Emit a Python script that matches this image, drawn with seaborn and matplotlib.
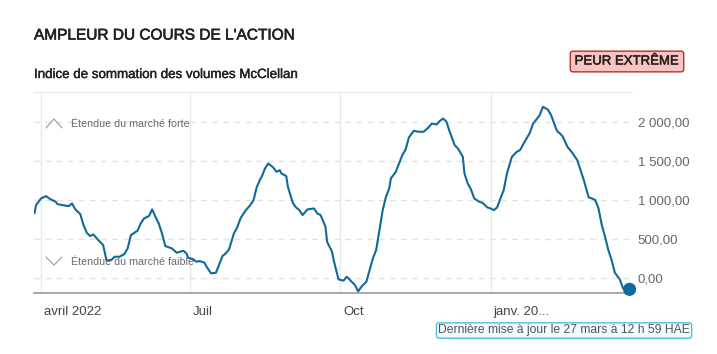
import pandas as pd
import numpy as np
import matplotlib
matplotlib.use("Agg")
import matplotlib.pyplot as plt
import matplotlib.transforms as mtransforms
import matplotlib.patheffects as pe
from matplotlib.ticker import FuncFormatter
import seaborn as sns

# Indice de sommation des volumes McClellan
dates = [
    "2022-03-28", "2022-03-29", "2022-04-01", "2022-04-04", "2022-04-07", "2022-04-10",
    "2022-04-11", "2022-04-14", "2022-04-18", "2022-04-20", "2022-04-22", "2022-04-25",
    "2022-04-27", "2022-04-29", "2022-05-01", "2022-05-03", "2022-05-06", "2022-05-09",
    "2022-05-11", "2022-05-14", "2022-05-16", "2022-05-19", "2022-05-22", "2022-05-24",
    "2022-05-26", "2022-05-30", "2022-06-01", "2022-06-03", "2022-06-06", "2022-06-08",
    "2022-06-10", "2022-06-12", "2022-06-14", "2022-06-16", "2022-06-20", "2022-06-23",
    "2022-06-25", "2022-06-27", "2022-06-29", "2022-06-30", "2022-07-03", "2022-07-05",
    "2022-07-07", "2022-07-10", "2022-07-11", "2022-07-14", "2022-07-17", "2022-07-21",
    "2022-07-23", "2022-07-25", "2022-07-28", "2022-07-30", "2022-08-01", "2022-08-04",
    "2022-08-07", "2022-08-09", "2022-08-11", "2022-08-12", "2022-08-13", "2022-08-14",
    "2022-08-16", "2022-08-18", "2022-08-21", "2022-08-23", "2022-08-25", "2022-08-26",
    "2022-08-29", "2022-08-30", "2022-09-02", "2022-09-04", "2022-09-06", "2022-09-08",
    "2022-09-11", "2022-09-15", "2022-09-17", "2022-09-19", "2022-09-22", "2022-09-23",
    "2022-09-25", "2022-09-26", "2022-09-27", "2022-09-28", "2022-09-30", "2022-10-03",
    "2022-10-05", "2022-10-07", "2022-10-10", "2022-10-12", "2022-10-14", "2022-10-17",
    "2022-10-19", "2022-10-21", "2022-10-23", "2022-10-25", "2022-10-27", "2022-10-29",
    "2022-10-31", "2022-11-01", "2022-11-04", "2022-11-06", "2022-11-08", "2022-11-10",
    "2022-11-12", "2022-11-15", "2022-11-18", "2022-11-21", "2022-11-24", "2022-11-26",
    "2022-11-29", "2022-12-01", "2022-12-03", "2022-12-05", "2022-12-07", "2022-12-10",
    "2022-12-12", "2022-12-15", "2022-12-16", "2022-12-18", "2022-12-20", "2022-12-22",
    "2022-12-25", "2022-12-27", "2022-12-30", "2023-01-01", "2023-01-03", "2023-01-05",
    "2023-01-07", "2023-01-09", "2023-01-11", "2023-01-14", "2023-01-17", "2023-01-19",
    "2023-01-21", "2023-01-23", "2023-01-25", "2023-01-27", "2023-01-29", "2023-01-31",
    "2023-02-02", "2023-02-05", "2023-02-07", "2023-02-10", "2023-02-11", "2023-02-12",
    "2023-02-14", "2023-02-17", "2023-02-20", "2023-02-23", "2023-02-25", "2023-02-27",
    "2023-03-02", "2023-03-04", "2023-03-06", "2023-03-08", "2023-03-10", "2023-03-12",
    "2023-03-14", "2023-03-16", "2023-03-18", "2023-03-21", "2023-03-23", "2023-03-25",
    "2023-03-27",
]
values = [
    829, 935, 1020, 1050, 1008, 978,
    948, 935, 922, 956, 880, 820,
    679, 581, 538, 559, 487, 423,
    231, 231, 273, 273, 307, 380,
    551, 606, 700, 764, 794, 880,
    786, 700, 572, 410, 380, 324,
    337, 350, 316, 260, 243, 209,
    218, 196, 154, 60, 68, 282,
    316, 367, 572, 649, 764, 863,
    935, 999, 1170, 1213, 1264, 1298,
    1405, 1469, 1418, 1362, 1383, 1341,
    1307, 1170, 965, 905, 871, 807,
    880, 892, 828, 807, 658, 465,
    380, 337, 231, 145, -17, -34,
    17, -26, -90, -171, -111, -47,
    102, 252, 359, 615, 871, 1042,
    1149, 1277, 1362, 1469, 1576, 1648,
    1802, 1887, 1875, 1875, 1930, 1981,
    1968, 2015, 2045, 2003, 1875, 1704,
    1661, 1554, 1341, 1213, 1136, 1020,
    978, 965, 905, 892, 871, 905,
    1020, 1127, 1341, 1554, 1618, 1640,
    1717, 1789, 1862, 1981, 2032, 2088,
    2195, 2160, 2088, 1917, 1875, 1862,
    1819, 1682, 1605, 1512, 1383, 1255,
    1033, 1020, 999, 892, 679, 529,
    359, 231, 68, -17, -132, -154,
    -145,
]

tick_dates = ["2022-04-01", "2022-07-01", "2022-10-01", "2023-01-01"]
tick_labels = ["avril 2022", "Juil", "Oct", "janv. 20..."]
y_ticks = [0, 500, 1000, 1500, 2000]

df = pd.DataFrame({"date": pd.to_datetime(dates), "valeur": values})

sns.set_style("white")
plt.rcParams["font.family"] = ["Liberation Sans", "DejaVu Sans"]

line_color = "#0f6a9b"
medium = [pe.withStroke(linewidth=0.45, foreground="#222222")]

fig = plt.figure(figsize=(7.17, 3.54), dpi=100)
ax = fig.add_axes([0.0474, 0.1723, 0.8341, 0.5678])

sns.lineplot(data=df, x="date", y="valeur", color=line_color, linewidth=1.5, ax=ax)
sns.scatterplot(data=df.tail(1), x="date", y="valeur", color=line_color, s=90,
                edgecolor="none", ax=ax, zorder=5, clip_on=False)

ax.set_xlim(pd.Timestamp("2022-03-27 17:00"), pd.Timestamp("2023-03-28 12:00"))
ax.set_ylim(-192, 2385)

# grilles
ax.set_yticks(y_ticks)
ax.yaxis.grid(True, color="#e2e2e2", linestyle=(0, (4, 4)), linewidth=1)
ax.set_xticks(pd.to_datetime(tick_dates))
ax.set_xticklabels(tick_labels)
ax.xaxis.grid(True, color="#e8e8e8", linestyle="-", linewidth=1)
ax.set_axisbelow(True)

ax.yaxis.tick_right()
ax.yaxis.set_major_formatter(FuncFormatter(
    lambda v, p: f"{v:,.2f}".replace(",", " ").replace(".", ",")))
ax.tick_params(axis="y", length=0, pad=4, labelsize=9.5, labelcolor="#666666")
ax.tick_params(axis="x", length=8, width=1, color="#e8e8e8", pad=1,
               labelsize=9.5, labelcolor="#444444", direction="out")
offset = mtransforms.ScaledTranslation(3 / 100, 0, fig.dpi_scale_trans)
for lab in ax.get_xticklabels():
    lab.set_horizontalalignment("left")
    lab.set_transform(lab.get_transform() + offset)

for side in ["left", "right"]:
    ax.spines[side].set_visible(False)
ax.spines["top"].set_color("#ececec")
ax.spines["top"].set_linewidth(1)
ax.spines["bottom"].set_color("#9a9a9a")
ax.spines["bottom"].set_linewidth(1.2)
ax.set_xlabel("")
ax.set_ylabel("")

# repères étendue du marché
ax.plot([0.020, 0.0334, 0.0468], [0.821, 0.866, 0.821], transform=ax.transAxes,
        color="#999999", linewidth=0.8)
ax.plot([0.020, 0.0334, 0.0468], [0.179, 0.139, 0.179], transform=ax.transAxes,
        color="#999999", linewidth=0.8)
ax.text(0.0619, 0.843, "Étendue du marché forte", transform=ax.transAxes,
        fontsize=7.7, color="#6a6a6a", va="center", ha="left")
ax.text(0.0619, 0.156, "Étendue du marché faible", transform=ax.transAxes,
        fontsize=7.7, color="#6a6a6a", va="center", ha="left")

# titres
fig.text(34 / 717, 1 - 39.5 / 354, "AMPLEUR DU COURS DE L'ACTION", fontsize=11.1,
         color="#222222", ha="left", va="baseline", path_effects=medium)
fig.text(34 / 717, 1 - 78 / 354, "Indice de sommation des volumes McClellan",
         fontsize=9.6, color="#222222", ha="left", va="baseline",
         path_effects=[pe.withStroke(linewidth=0.3, foreground="#222222")])
fig.text(627 / 717, 1 - 61.5 / 354, "PEUR EXTRÊME", fontsize=9.5, color="#222222",
         ha="center", va="center", path_effects=[pe.withStroke(linewidth=0.35, foreground="#222222")],
         bbox=dict(boxstyle="round,pad=0.33,rounding_size=0.2", facecolor="#f8c3c0",
                   edgecolor="#b53030", linewidth=1))
fig.text(690 / 717, 1 - 330.5 / 354, "Dernière mise à jour le 27 mars à 12 h 59 HAE",
         fontsize=8.75, color="#555555", ha="right", va="center",
         bbox=dict(boxstyle="round,pad=0.14,rounding_size=0.2", facecolor="#f3fbfe",
                   edgecolor="#45c1e6", linewidth=1))

fig.savefig("out.png", dpi=100)
